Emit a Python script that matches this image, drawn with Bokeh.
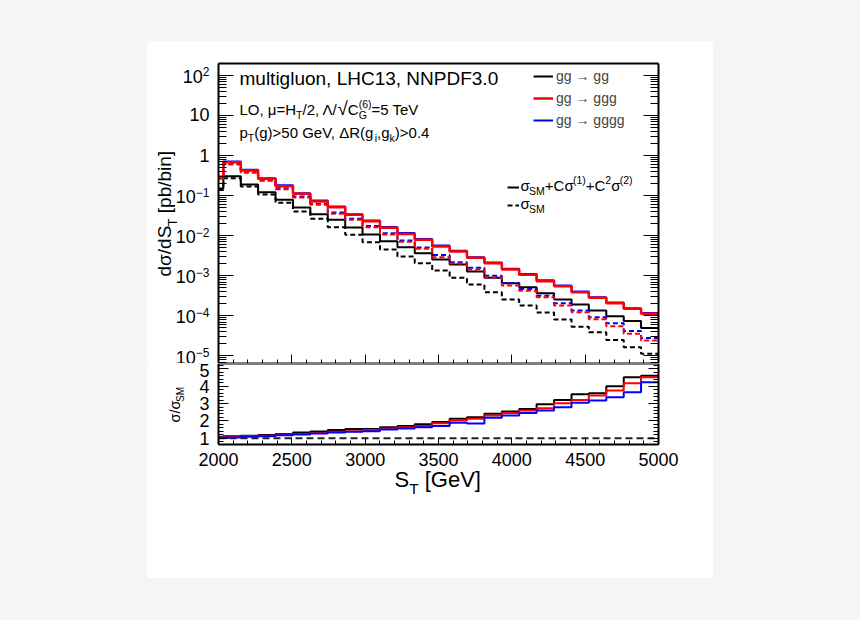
import math

from bokeh.embed import file_html
from bokeh.layouts import column
from bokeh.models import (CustomJSTickFormatter, FixedTicker, Label, Legend,
                          LegendItem, LinearAxis, LogAxis, Range1d)
from bokeh.plotting import figure
from bokeh.resources import INLINE

# ---------------------------------------------------------------- data
# S_T bin edges [GeV]; the first bin is cut by the window at 2000 GeV
ST_EDGES = [2000, 2033, 2152, 2270, 2389, 2508, 2626, 2745, 2864, 2982, 3101,
            3220, 3338, 3457, 3576, 3694, 3813, 3932, 4050, 4169, 4288, 4407,
            4525, 4644, 4763, 4881, 5000]

# dsigma/dS_T [pb/bin]: full = sigma_SM + C sigma(1) + C^2 sigma(2), sm = sigma_SM
GG_FULL = [0.15, 0.305, 0.19, 0.122, 0.0785, 0.0505, 0.0344, 0.0249, 0.016,
           0.0107, 0.0073, 0.00518, 0.00366, 0.00255, 0.00191, 0.00128,
           0.00089, 0.000654, 0.00052, 0.000369, 0.000256, 0.000192,
           0.000136, 9.8e-5, 7.5e-5, 5.0e-5]
GG_SM = [0.138, 0.27, 0.168, 0.106, 0.066, 0.040, 0.0264, 0.0163, 0.0105,
         0.00689, 0.00453, 0.00303, 0.00206, 0.00136, 0.00089, 0.000607,
         0.00039, 0.000256, 0.000182, 0.000122, 8.1e-5, 5.4e-5, 3.9e-5,
         2.5e-5, 1.66e-5, 1.13e-5]
GGG_FULL = [0.28, 0.68, 0.42, 0.262, 0.172, 0.111, 0.0713, 0.0514, 0.0332,
            0.023, 0.0157, 0.0111, 0.0079, 0.0054, 0.00404, 0.00281, 0.00206,
            0.00144, 0.00106, 0.000733, 0.00055, 0.00039, 0.000282, 0.000207,
            0.00015, 0.000113]
GGG_SM = [0.265, 0.60, 0.37, 0.233, 0.145, 0.0897, 0.0589, 0.0351, 0.0249,
          0.0163, 0.0107, 0.00705, 0.00471, 0.0029, 0.00203, 0.00144,
          0.000907, 0.000573, 0.000422, 0.000293, 0.000182, 0.000124, 8.3e-5,
          5.5e-5, 3.6e-5, 2.44e-5]
GGGG_FULL = [0.30, 0.71, 0.44, 0.27, 0.18, 0.115, 0.0755, 0.0535, 0.0345,
             0.0239, 0.0165, 0.0116, 0.0083, 0.0057, 0.0042, 0.00292, 0.00215,
             0.0015, 0.00111, 0.00077, 0.00057, 0.000405, 0.000293, 0.000215,
             0.000156, 0.000118]
GGGG_SM = [0.29, 0.64, 0.40, 0.24, 0.152, 0.095, 0.0615, 0.038, 0.0265,
           0.0175, 0.0115, 0.0076, 0.0051, 0.0033, 0.00218, 0.00158, 0.001,
           0.00066, 0.000472, 0.00032, 0.000207, 0.000137, 9.2e-5, 6.6e-5,
           4.2e-5, 2.8e-5]

# sigma / sigma_SM per bin
GG_RATIO = [1.08, 1.12, 1.15, 1.19, 1.25, 1.33, 1.39, 1.48, 1.54, 1.54, 1.64,
            1.71, 1.81, 1.94, 2.12, 2.21, 2.41, 2.54, 2.69, 2.96, 3.21, 3.54,
            3.59, 4.0, 4.52, 4.61]
GGG_RATIO = [1.06, 1.07, 1.12, 1.15, 1.21, 1.25, 1.31, 1.37, 1.41, 1.48, 1.56,
             1.64, 1.71, 1.87, 2.02, 2.12, 2.31, 2.46, 2.6, 2.73, 3.02, 3.21,
             3.46, 3.75, 4.17, 4.52]
GGGG_RATIO = [1.04, 1.04, 1.08, 1.12, 1.17, 1.21, 1.27, 1.33, 1.37, 1.41, 1.50,
              1.56, 1.64, 1.71, 1.89, 1.85, 2.18, 2.31, 2.46, 2.6, 2.79, 3.04,
              3.17, 3.36, 3.65, 4.23]
SM_REFERENCE = [1, 1]

PROCESSES = ["gg \u2192 gg", "gg \u2192 ggg", "gg \u2192 gggg"]
X_TICKS = [2000, 2500, 3000, 3500, 4000, 4500, 5000]
Y_DECADES = [1e-5, 1e-4, 1e-3, 1e-2, 1e-1, 1, 10, 100]
RATIO_TICKS = [1, 2, 3, 4, 5]

# ---------------------------------------------------------------- layout
FONT = "Liberation Sans"
X_MIN, X_MAX = 2000, 5000
Y_MIN, Y_MAX = 6.5e-6, 197
R_MIN, R_MAX = 0.64, 5.31

CARD_L, CARD_R, CARD_T, CARD_B = 147, 713, 41, 578   # white card on the page
BOX_L, BOX_R = 218, 658                               # axes box, page x
TOP_T, SPLIT, BOT_B = 63, 363, 444                    # axes boxes, page y
BASE_FIX = 0.36      # em; lifts "alphabetic" labels onto the intended baseline

BLACK, RED, BLUE = "#000000", "#ff0000", "#0000ff"

# each figure's frame fills its part of the card; the ranges are widened so
# that the axis limits land on the drawn axes box
kx = (BOX_R - BOX_L) / (X_MAX - X_MIN)
X_RANGE = Range1d(X_MIN - (BOX_L - CARD_L) / kx, X_MAX + (CARD_R - BOX_R) / kx)
decade = (SPLIT - TOP_T) / math.log10(Y_MAX / Y_MIN)
Y_RANGE = Range1d(Y_MIN, Y_MAX * 10 ** ((TOP_T - CARD_T) / decade))
kr = (BOT_B - SPLIT) / (R_MAX - R_MIN)
R_RANGE = Range1d(R_MIN - (CARD_B - BOT_B) / kr, R_MAX)

# advance widths (1/1000 em) used to lay out text runs with sub/superscripts
ADV = {}
for chars, w in [("ijl", 222), ("frt/.,[] ", 278), ("()-", 333), ("r", 333),
                 ("ckszvxy", 500), ("J", 500),
                 ("abdeghnopqu0123456789L", 556), ("+=>\u2212", 584),
                 ("FTZ", 611), ("ABEKPSVXY\u039b", 667), ("\u0394", 668),
                 ("CDHNRUw", 722), ("GOQ", 778), ("mM", 833), ("W", 944),
                 ("\u03c3", 570), ("\u03bc", 577), ("\u221a", 549),
                 ("\u2192", 1000)]:
    for ch in chars:
        ADV[ch] = w


def text_w(s, size):
    return sum(ADV.get(ch, 556) for ch in s) * size / 1000.0


def place(fig, fig_top, cx, cy, text, size, align="left", angle=0.0):
    """Text whose baseline starts at page position (cx, cy)."""
    if angle == 0.0:
        cy -= BASE_FIX * size
    else:
        cx -= BASE_FIX * size
    fig.add_layout(Label(
        x=fig.x_range.start, y=fig.y_range.end,
        x_offset=cx - CARD_L, y_offset=fig_top - cy,
        text=text, text_font=FONT, text_font_size=f"{size:.1f}px",
        text_align=align, text_baseline="alphabetic", angle=angle,
        text_color="black"))


def rich(fig, fig_top, cx, cy, parts, size, vertical=False):
    """Lay out (text, kind[, advance, scale]) runs; kind is n / sub / sup."""
    pos = 0.0
    for part in parts:
        txt, kind = part[0], part[1]
        adv = part[2] if len(part) > 2 else True
        scale = part[3] if len(part) > 3 else 1.0
        fs = size * (0.7 if kind != "n" else 1.0) * scale
        shift = {"n": 0.0, "sub": 0.28 * size, "sup": -0.45 * size}[kind]
        lead = len(txt) - len(txt.lstrip(" "))
        pos += text_w(" " * lead, fs)
        txt = txt.lstrip(" ")
        if vertical:
            place(fig, fig_top, cx + shift, cy - pos, txt, fs, angle=math.pi / 2)
        else:
            place(fig, fig_top, cx + pos, cy + shift, txt, fs)
        if adv:
            pos += text_w(txt, fs)


def tick_text(fig, yv, text, size, dx, dy):
    """Right-aligned text next to the left axis at data height yv."""
    fig.add_layout(Label(x=X_MIN, y=yv, x_offset=dx,
                         y_offset=dy + BASE_FIX * size, text=text,
                         text_font=FONT, text_font_size=f"{size}px",
                         text_align="right", text_baseline="alphabetic",
                         text_color="black"))


def stepped(vals):
    return list(vals) + [vals[-1]]


def style_axis(ax, major_in, minor_in, labels=False, size=18, standoff=8):
    ax.major_tick_in = major_in
    ax.major_tick_out = 0
    ax.minor_tick_in = minor_in
    ax.minor_tick_out = 0
    ax.axis_line_width = 2
    ax.axis_line_color = "black"
    ax.major_tick_line_width = 1
    ax.minor_tick_line_width = 1
    ax.axis_label = None
    if labels:
        ax.major_label_text_font = FONT
        ax.major_label_text_font_size = f"{size}px"
        ax.major_label_text_color = "black"
        ax.major_label_standoff = standoff
    else:
        ax.formatter = CustomJSTickFormatter(code="return ''")
        ax.major_label_text_font_size = "0px"
        ax.major_label_standoff = 0


x_ticker = FixedTicker(ticks=X_TICKS, minor_ticks=list(range(2000, 5001, 100)))
log_minor = [m * 10.0 ** k for k in range(-6, 3) for m in range(2, 10)]
y_ticker = FixedTicker(ticks=Y_DECADES,
                       minor_ticks=[v for v in log_minor if Y_MIN <= v <= Y_MAX])
r_ticker = FixedTicker(ticks=RATIO_TICKS,
                       minor_ticks=[round(0.8 + 0.2 * i, 1) for i in range(23)])
no_ticks = FixedTicker(ticks=[])


def make_fig(height, y_range, log):
    fig = figure(width=CARD_R - CARD_L, height=height, x_range=X_RANGE,
                 y_range=y_range, y_axis_type="log" if log else "linear",
                 output_backend="svg", toolbar_location=None,
                 min_border_left=0, min_border_right=0, min_border_top=0,
                 min_border_bottom=0, background_fill_color="white",
                 border_fill_color="white", outline_line_color=None)
    fig.grid.visible = False
    return fig


def frame_axes(fig, ylo, yhi, yticker, y_major, y_minor, x_major, x_minor,
               labels, log, x_standoff=8, y_standoff=9):
    """Four axes pinned onto the box [X_MIN, X_MAX] x [ylo, yhi]."""
    left = fig.yaxis[0]
    left.ticker = yticker
    left.fixed_location = X_MIN
    left.bounds = (ylo, yhi)
    style_axis(left, y_major, y_minor, labels=labels, standoff=y_standoff)
    right = (LogAxis if log else LinearAxis)(ticker=yticker, fixed_location=X_MAX,
                                            bounds=(ylo, yhi))
    style_axis(right, y_major, y_minor)
    fig.add_layout(right, "right")
    below = fig.xaxis[0]
    below.ticker = x_ticker
    below.fixed_location = ylo
    below.bounds = (X_MIN, X_MAX)
    style_axis(below, x_major, x_minor, labels=labels, standoff=x_standoff)
    above = LinearAxis(ticker=no_ticks, fixed_location=yhi, bounds=(X_MIN, X_MAX))
    style_axis(above, 0, 0)
    fig.add_layout(above, "above")


# ---------------------------------------------------------------- top pad
top = make_fig(SPLIT - CARD_T, Y_RANGE, True)
frame_axes(top, Y_MIN, Y_MAX, y_ticker, 15, 8, 9, 4, False, True)

series = [
    (GG_SM, BLACK, "5 3", 2), (GG_FULL, BLACK, "solid", 2),
    (GGGG_SM, BLUE, "5 3", 2), (GGG_SM, RED, "5 3", 2),
    (GGGG_FULL, BLUE, "solid", 2), (GGG_FULL, RED, "solid", 2.5),
]
rend = {}
for vals, col, dash, lw in series:
    rend[(col, dash)] = top.step(x=ST_EDGES, y=stepped(vals), mode="after",
                                 line_color=col, line_width=lw, line_dash=dash)

leg_proc = Legend(items=[
    LegendItem(label=PROCESSES[0], renderers=[rend[(BLACK, "solid")]]),
    LegendItem(label=PROCESSES[1], renderers=[rend[(RED, "solid")]]),
    LegendItem(label=PROCESSES[2], renderers=[rend[(BLUE, "solid")]]),
], location=(533 - CARD_L, SPLIT - 130), glyph_width=20, glyph_height=20,
    label_height=20, label_standoff=3, spacing=2, padding=0, margin=0,
    border_line_alpha=0, background_fill_alpha=0,
    label_text_font=FONT, label_text_font_size="14px")
top.add_layout(leg_proc)

leg_kind = Legend(items=[
    LegendItem(label=" ", renderers=[rend[(BLACK, "solid")]]),
    LegendItem(label=" ", renderers=[rend[(BLACK, "5 3")]]),
], location=(507 - CARD_L, SPLIT - 213), glyph_width=12, glyph_height=16,
    label_height=16, label_standoff=1, spacing=2, padding=0, margin=0,
    border_line_alpha=0, background_fill_alpha=0,
    label_text_font=FONT, label_text_font_size="14px")
top.add_layout(leg_kind)

# texts of the top pad
place(top, CARD_T, 239, 85, "multigluon, LHC13, NNPDF3.0", 19)
rich(top, CARD_T, 239, 114.5, [
    ("LO, \u03bc=H", "n"), ("T", "sub"), ("/2, \u039b/", "n"),
    ("\u221a", "n", True, 1.25), ("C", "n"), ("G", "sub", False),
    ("(6)", "sup"), ("=5 TeV", "n")], 15)
rich(top, CARD_T, 239, 137, [
    ("p", "n"), ("T", "sub"), ("(g)>50 GeV, \u0394R(g", "n"), ("i", "sub"),
    (",g", "n"), ("k", "sub"), (")>0.4", "n")], 15)
rich(top, CARD_T, 520, 190.5, [
    ("\u03c3", "n"), ("SM", "sub"), ("+C\u03c3", "n"), ("(1)", "sup"),
    ("+C", "n"), ("2", "sup"), ("\u03c3", "n"), ("(2)", "sup")], 15)
rich(top, CARD_T, 520, 208.5, [("\u03c3", "n"), ("SM", "sub")], 15)

# y axis title of the top pad
rich(top, CARD_T, 171, 276, [("d\u03c3/dS", "n"), ("T", "sub"),
                             (" [pb/bin]", "n")], 19, vertical=True)

# decade labels of the logarithmic axis
for v in Y_DECADES:
    e = round(math.log10(v))
    if e in (0, 1):
        tick_text(top, v, "1" if e == 0 else "10", 18, -9, -6)
    else:
        ex = str(e).replace("-", "\u2212")
        tick_text(top, v, ex, 12, -9, -1)
        tick_text(top, v, "10", 18, -9 - text_w(ex, 12), -7.5)

# ---------------------------------------------------------------- ratio pad
bot = make_fig(CARD_B - SPLIT, R_RANGE, False)
frame_axes(bot, R_MIN, R_MAX, r_ticker, 10, 5, 7, 4, True, False,
           x_standoff=8, y_standoff=9)

bot.line(x=[X_MIN, X_MAX], y=SM_REFERENCE, line_color="#222222", line_width=2,
         line_dash="7 4")
for vals, col in [(GG_RATIO, BLACK), (GGG_RATIO, RED), (GGGG_RATIO, BLUE)]:
    bot.step(x=ST_EDGES, y=stepped(vals), mode="after", line_color=col,
             line_width=2)

rich(bot, SPLIT, 180, 422, [("\u03c3/\u03c3", "n"), ("SM", "sub")], 14.5,
     vertical=True)
rich(bot, SPLIT, 394, 487, [("S", "n"), ("T", "sub"), (" [GeV]", "n")], 22)

# ---------------------------------------------------------------- page
card = column(top, bot, margin=(CARD_T, 0, 0, CARD_L))
page = column(card, width=860, height=620, sizing_mode="fixed",
              styles={"background-color": "#f5f5f5"})

with open("out.html", "w") as fh:
    fh.write(file_html(page, INLINE, title="multigluon S_T"))
